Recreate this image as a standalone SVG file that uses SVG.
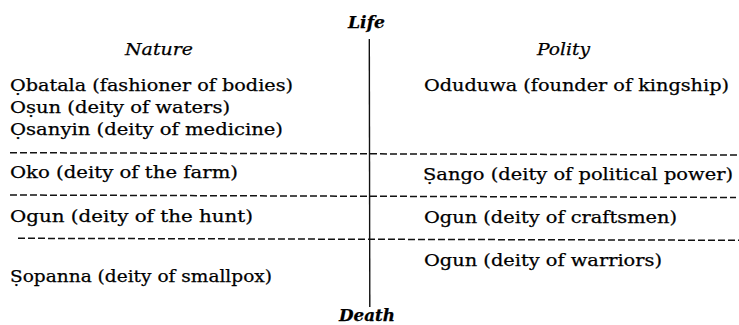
<svg xmlns="http://www.w3.org/2000/svg" width="739" height="325" viewBox="0 0 739 325">
<style>
  text { font-family: "DejaVu Serif", "Liberation Serif", serif; fill: #000; stroke: #000; stroke-width: 0.25; }
  .item { font-size: 17px; }
  .head { font-size: 17px; font-style: italic; }
  .axis { font-size: 17px; font-style: italic; font-weight: bold; }
  .dash { stroke: #111; stroke-width: 1.5; stroke-dasharray: 7 3; fill: none; }
  .axisline { stroke: #111; stroke-width: 1.4; fill: none; }
</style>
<rect width="739" height="325" fill="#ffffff"/>
<g id="connectors">
  <line class="axisline" x1="369.3" y1="39" x2="369.8" y2="307"/>
  <line class="dash" x1="10" y1="152.7" x2="738" y2="155"/>
  <line class="dash" x1="10" y1="195" x2="736" y2="197.5"/>
  <line class="dash" x1="18" y1="238.3" x2="739" y2="240.3"/>
</g>
<g id="life"><text class="axis" x="348" y="28" textLength="37" lengthAdjust="spacingAndGlyphs">Life</text></g>
<g id="death"><text class="axis" x="339" y="321" textLength="56" lengthAdjust="spacingAndGlyphs">Death</text></g>
<g id="nature"><text class="head" x="125" y="55" textLength="68" lengthAdjust="spacingAndGlyphs">Nature</text></g>
<g id="polity"><text class="head" x="537" y="55" textLength="53" lengthAdjust="spacingAndGlyphs">Polity</text></g>
<g id="obatala"><text class="item" x="10" y="90.5" textLength="283" lengthAdjust="spacingAndGlyphs">Ọbatala (fashioner of bodies)</text></g>
<g id="osun"><text class="item" x="10" y="112.5" textLength="220" lengthAdjust="spacingAndGlyphs">Oṣun (deity of waters)</text></g>
<g id="osanyin"><text class="item" x="10" y="134.5" textLength="273" lengthAdjust="spacingAndGlyphs">Ọsanyin (deity of medicine)</text></g>
<g id="oduduwa"><text class="item" x="424" y="90.5" textLength="305" lengthAdjust="spacingAndGlyphs">Oduduwa (founder of kingship)</text></g>
<g id="oko"><text class="item" x="10" y="177.5" textLength="228" lengthAdjust="spacingAndGlyphs">Oko (deity of the farm)</text></g>
<g id="sango"><text class="item" x="423" y="179.5" textLength="310" lengthAdjust="spacingAndGlyphs">Ṣango (deity of political power)</text></g>
<g id="ogun-hunt"><text class="item" x="10" y="221.5" textLength="243" lengthAdjust="spacingAndGlyphs">Ogun (deity of the hunt)</text></g>
<g id="ogun-craftsmen"><text class="item" x="424" y="222.5" textLength="253" lengthAdjust="spacingAndGlyphs">Ogun (deity of craftsmen)</text></g>
<g id="ogun-warriors"><text class="item" x="424" y="265.5" textLength="238" lengthAdjust="spacingAndGlyphs">Ogun (deity of warriors)</text></g>
<g id="sopanna"><text class="item" x="10" y="281.5" textLength="262" lengthAdjust="spacingAndGlyphs">Ṣopanna (deity of smallpox)</text></g>
</svg>
